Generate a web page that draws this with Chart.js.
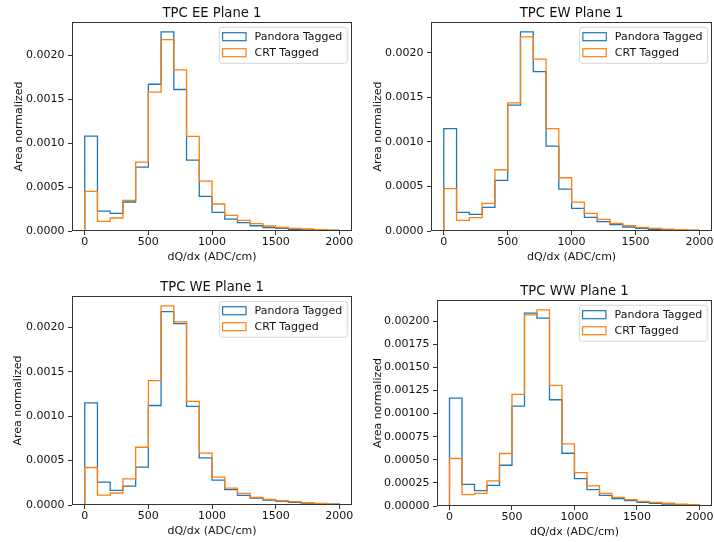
<!DOCTYPE html>
<html>
<head>
<meta charset="utf-8">
<script src="https://cdn.jsdelivr.net/npm/chart.js@4/dist/chart.umd.min.js"></script>
<style>
  html, body { margin: 0; padding: 0; background: #fff; }
  #fig { position: relative; width: 714px; height: 542px; overflow: hidden; background: #fff; }
  #fig canvas { position: absolute; }
</style>
</head>
<body>
<div id="fig"></div>
<script>
// Histogram binning: 20 bins of 100 ADC/cm from 0 to 2000
const binEdges = [0, 100, 200, 300, 400, 500, 600, 700, 800, 900, 1000,
                  1100, 1200, 1300, 1400, 1500, 1600, 1700, 1800, 1900, 2000];
const seriesNames = ['Pandora Tagged', 'CRT Tagged'];
const seriesColors = ['#1f77b4', '#ff7f0e'];
const xTicks = [0, 500, 1000, 1500, 2000];
const yTicksCoarse = [0, 0.0005, 0.0010, 0.0015, 0.0020];
const yTicksFine = [0, 0.00025, 0.0005, 0.00075, 0.0010, 0.00125, 0.0015, 0.00175, 0.0020];
const xTitle = 'dQ/dx (ADC/cm)';
const yTitle = 'Area normalized';

// Area-normalised dQ/dx per bin
const eePandora = [0.00108, 0.000227, 0.000201, 0.00033, 0.000727, 0.00167, 0.002265, 0.00161, 0.000807, 0.000394,
                   0.000212, 0.000136, 0.000095, 0.00006, 0.00004, 0.00003, 0.00002, 0.000015, 0.00001, 0.000008];
const eeCrt     = [0.00045, 0.00011, 0.000148, 0.000348, 0.000784, 0.00158, 0.002178, 0.001833, 0.001076, 0.000568,
                   0.000307, 0.000178, 0.000121, 0.000083, 0.000057, 0.00004, 0.00003, 0.000023, 0.000015, 0.00001];
const ewPandora = [0.001151, 0.000209, 0.000187, 0.000265, 0.000568, 0.001413, 0.002236, 0.00179, 0.000953, 0.000471,
                   0.000254, 0.000153, 0.000105, 0.000071, 0.000045, 0.00003, 0.000019, 0.000015, 0.00001, 0.000007];
const ewCrt     = [0.000475, 0.00012, 0.00015, 0.00031, 0.000688, 0.00144, 0.00218, 0.00193, 0.00115, 0.000598,
                   0.000325, 0.000198, 0.000131, 0.000086, 0.00006, 0.00004, 0.00003, 0.000022, 0.000015, 0.00001];
const wePandora = [0.00115, 0.000258, 0.000164, 0.000213, 0.000426, 0.00112, 0.002176, 0.002041, 0.00111, 0.000531,
                   0.00028, 0.000172, 0.000108, 0.000078, 0.000056, 0.00004, 0.00003, 0.000022, 0.000015, 0.00001];
const weCrt     = [0.000422, 0.000112, 0.000135, 0.000295, 0.00065, 0.0014, 0.00224, 0.00206, 0.001166, 0.000583,
                   0.000314, 0.00019, 0.000131, 0.000086, 0.000064, 0.000048, 0.000037, 0.000026, 0.000019, 0.00001];
const wwPandora = [0.001168, 0.000235, 0.000166, 0.000224, 0.000441, 0.001081, 0.002087, 0.002033, 0.00115, 0.000571,
                   0.000297, 0.000177, 0.000116, 0.00008, 0.000058, 0.00004, 0.00003, 0.00002, 0.000014, 0.00001];
const wwCrt     = [0.000514, 0.000123, 0.000137, 0.000271, 0.000568, 0.001208, 0.002069, 0.002123, 0.001306, 0.000673,
                   0.000362, 0.000217, 0.000137, 0.000094, 0.000069, 0.00005, 0.00004, 0.00003, 0.00002, 0.000015];

const panelTitles = ['TPC EE Plane 1', 'TPC EW Plane 1', 'TPC WE Plane 1', 'TPC WW Plane 1'];
const panelSeries = [[eePandora, eeCrt], [ewPandora, ewCrt], [wePandora, weCrt], [wwPandora, wwCrt]];
const panelYTicks = [yTicksCoarse, yTicksCoarse, yTicksCoarse, yTicksFine];
const panelYDecimals = [4, 4, 4, 5];

// Figure layout: canvas origin and plot-area box (canvas pixels) of each panel
const CW = 357, CH = 271;
const panelOrigin = [[0, 0], [357, 0], [0, 271], [357, 271]];
const panelArea = [
  { l: 72, t: 22, r: 352, b: 231 },
  { l: 74, t: 22, r: 356, b: 231 },
  { l: 72, t: 25, r: 352, b: 234 },
  { l: 80, t: 29, r: 356, b: 235 }
];
const panelYTitleX = [19.3, 21, 18.5, 21];

const FONT = '"DejaVu Sans", "Liberation Sans", sans-serif';
const TEXT = '#111111';
const SPINE = '#333333';
const XTITLE_DROP = 26;       // axis line to x-title centre
const LABEL_LH = 11 * 1.2;

// Outline of a step histogram: rise at the first edge, fall at the last
function stepOutline(values) {
  const pts = [{ x: binEdges[0], y: 0 }];
  values.forEach((v, i) => pts.push({ x: binEdges[i], y: v }));
  pts.push({ x: binEdges[binEdges.length - 1], y: 0 });
  return pts;
}

// Frame, panel title and legend box
const panelDecor = {
  id: 'panelDecor',
  afterDraw(chart, args, opts) {
    const { ctx, chartArea: a } = chart;
    ctx.save();

    // four-sided frame
    ctx.strokeStyle = SPINE;
    ctx.lineWidth = 1;
    const L = Math.round(a.left) + 0.5, R = Math.round(a.right) - 0.5;
    const T = Math.round(a.top) + 0.5, B = Math.round(a.bottom) - 0.5;
    ctx.strokeRect(L, T, R - L, B - T);

    // title
    ctx.fillStyle = TEXT;
    ctx.font = '13.2px ' + FONT;
    ctx.textAlign = 'center';
    ctx.textBaseline = 'alphabetic';
    ctx.fillText(opts.title, (a.left + a.right) / 2, a.top - 5);

    // legend
    ctx.font = '11px ' + FONT;
    const ds = chart.data.datasets;
    let textW = 0;
    ds.forEach(d => { textW = Math.max(textW, ctx.measureText(d.label).width); });
    const padL = 3.3, patchW = 23.4, patchH = 8, gap = 8.6, padR = 5;
    const rowH = 16, firstRow = 9.4, frameH = 36;
    const frameW = padL + patchW + gap + textW + padR;
    const fx = a.right - 4.7 - frameW, fy = a.top + 5.3;
    const rad = 2.5;
    ctx.beginPath();
    ctx.moveTo(fx + rad, fy);
    ctx.lineTo(fx + frameW - rad, fy);
    ctx.arcTo(fx + frameW, fy, fx + frameW, fy + rad, rad);
    ctx.lineTo(fx + frameW, fy + frameH - rad);
    ctx.arcTo(fx + frameW, fy + frameH, fx + frameW - rad, fy + frameH, rad);
    ctx.lineTo(fx + rad, fy + frameH);
    ctx.arcTo(fx, fy + frameH, fx, fy + frameH - rad, rad);
    ctx.lineTo(fx, fy + rad);
    ctx.arcTo(fx, fy, fx + rad, fy, rad);
    ctx.closePath();
    ctx.fillStyle = 'rgba(255,255,255,0.8)';
    ctx.fill();
    ctx.strokeStyle = '#d6d6d6';
    ctx.lineWidth = 1;
    ctx.stroke();

    ds.forEach((d, i) => {
      const cy = fy + firstRow + i * rowH;
      ctx.strokeStyle = d.borderColor;
      ctx.lineWidth = 1.2;
      ctx.strokeRect(fx + padL, cy - patchH / 2, patchW, patchH);
      ctx.fillStyle = TEXT;
      ctx.textAlign = 'left';
      ctx.textBaseline = 'middle';
      ctx.fillText(d.label, fx + padL + patchW + gap, cy + 0.5);
    });
    ctx.restore();
  }
};

const fig = document.getElementById('fig');

panelTitles.forEach((title, p) => {
  const canvas = document.createElement('canvas');
  canvas.width = CW;
  canvas.height = CH;
  canvas.style.left = panelOrigin[p][0] + 'px';
  canvas.style.top = panelOrigin[p][1] + 'px';
  canvas.style.width = CW + 'px';
  canvas.style.height = CH + 'px';
  fig.appendChild(canvas);

  const area = panelArea[p];
  const series = panelSeries[p];
  const yMax = Math.max(...series.flat()) * 1.05;
  const dec = panelYDecimals[p];
  const yTicks = panelYTicks[p];
  const xScaleH = XTITLE_DROP + LABEL_LH / 2;

  const datasets = series.map((vals, s) => ({
    label: seriesNames[s],
    data: stepOutline(vals),
    borderColor: seriesColors[s],
    borderWidth: 1.3,
    stepped: 'before',
    fill: false,
    pointRadius: 0,
    pointHoverRadius: 0,
    order: series.length - 1 - s
  }));

  new Chart(canvas, {
    type: 'line',
    data: { datasets },
    options: {
      responsive: false,
      animation: false,
      devicePixelRatio: 1,
      events: [],
      parsing: false,
      layout: {
        autoPadding: false,
        padding: { left: 0, top: area.t, right: CW - area.r, bottom: CH - area.b - xScaleH }
      },
      plugins: {
        legend: { display: false },
        tooltip: { enabled: false },
        title: { display: false },
        panelDecor: { title }
      },
      scales: {
        x: {
          type: 'linear',
          min: -100,
          max: 2100,
          afterBuildTicks: s => { s.ticks = xTicks.map(v => ({ value: v })); },
          afterFit: s => { s.height = xScaleH; },
          ticks: {
            font: { family: FONT, size: 11 },
            color: TEXT,
            padding: 0.5,
            maxRotation: 0,
            autoSkip: false,
            callback: v => String(v)
          },
          grid: { display: true, drawOnChartArea: false, drawTicks: true, tickLength: 4, color: SPINE, lineWidth: 1 },
          border: { display: false },
          title: {
            display: true,
            text: xTitle,
            color: TEXT,
            font: { family: FONT, size: 11 },
            padding: { top: 0, bottom: 0 }
          }
        },
        y: {
          type: 'linear',
          min: 0,
          max: yMax,
          afterBuildTicks: s => { s.ticks = yTicks.map(v => ({ value: v })); },
          afterFit: s => { s.width = area.l; },
          ticks: {
            font: { family: FONT, size: 11 },
            color: TEXT,
            padding: 3.5,
            autoSkip: false,
            callback: v => Number(v).toFixed(dec)
          },
          grid: { display: true, drawOnChartArea: false, drawTicks: true, tickLength: 4, color: SPINE, lineWidth: 1 },
          border: { display: false },
          title: {
            display: true,
            text: yTitle,
            color: TEXT,
            font: { family: FONT, size: 11 },
            padding: { top: panelYTitleX[p] - LABEL_LH / 2, bottom: 0 }
          }
        }
      }
    },
    plugins: [panelDecor]
  });
});
</script>
</body>
</html>
